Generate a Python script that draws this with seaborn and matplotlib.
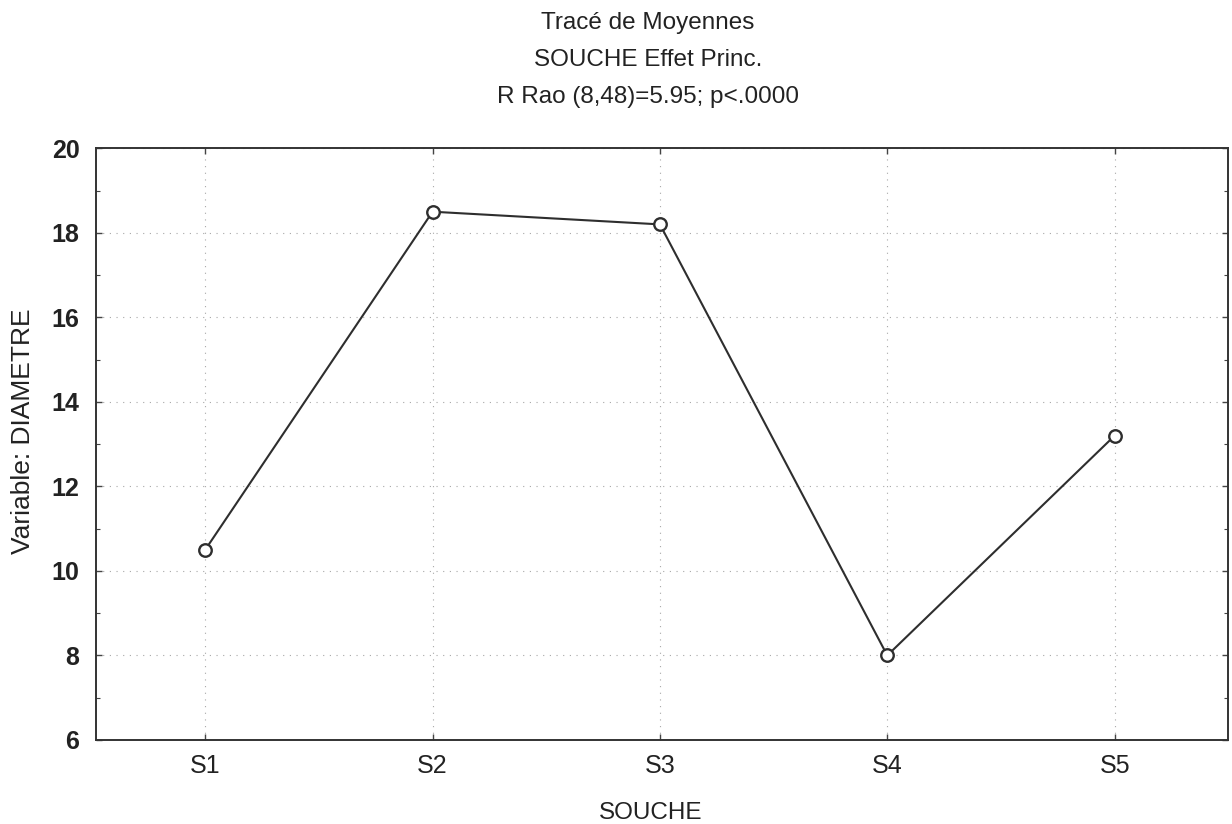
import matplotlib
matplotlib.use("Agg")
import matplotlib.pyplot as plt
import seaborn as sns
import pandas as pd
from matplotlib.ticker import MultipleLocator

categories = ["S1", "S2", "S3", "S4", "S5"]
means = [10.5, 18.5, 18.2, 8.0, 13.2]
title_lines = ["Tracé de Moyennes", "SOUCHE Effet Princ.", "R Rao (8,48)=5.95; p<.0000"]

sns.set_theme(style="white")
plt.rcParams['font.family'] = ['Liberation Sans', 'DejaVu Sans']

df = pd.DataFrame({"SOUCHE": categories, "DIAMETRE": means})

fig = plt.figure(figsize=(12.32, 8.24), dpi=100)
ax = fig.add_axes([0.078, 0.102, 0.919, 0.718])

sns.lineplot(data=df, x="SOUCHE", y="DIAMETRE", ax=ax, color="#2e2e2e",
             linewidth=1.5, marker="o", markersize=9, markerfacecolor="white",
             markeredgecolor="#2e2e2e", markeredgewidth=1.7, sort=False)

ax.set_ylim(6, 20)
ax.set_xlim(-0.48, 4.5)
ax.yaxis.set_major_locator(MultipleLocator(2))
ax.yaxis.set_minor_locator(MultipleLocator(1))

for s in ax.spines.values():
    s.set_color("#333333")
    s.set_linewidth(1.4)

ax.tick_params(axis="both", which="both", direction="in", color="#444444",
               top=True, right=True, left=True, bottom=True)
ax.tick_params(axis="both", which="major", length=4, width=1)
ax.tick_params(axis="y", which="minor", length=3, width=0.8)
ax.tick_params(axis="y", which="major", labelsize=18, pad=12, labelcolor="#222222")
ax.tick_params(axis="x", which="major", labelsize=18, pad=10, labelcolor="#222222")
for lab in ax.get_yticklabels():
    lab.set_fontweight("bold")

ax.grid(True, which="major", linestyle=(0, (1, 5)), color="#a8a8a8", linewidth=0.8)

ax.set_xlabel("SOUCHE", fontsize=17.5, color="#222222")
ax.xaxis.set_label_coords(0.490, -0.105)
ax.set_ylabel("Variable: DIAMETRE", fontsize=19, color="#222222")
ax.yaxis.set_label_coords(-0.054, 0.522)

ys = [0.972, 0.927, 0.882]
for t, y in zip(title_lines, ys):
    fig.text(648 / 1232, y, t, ha="center", va="center", fontsize=17.5, color="#222222")

fig.savefig("out.png", dpi=100)
